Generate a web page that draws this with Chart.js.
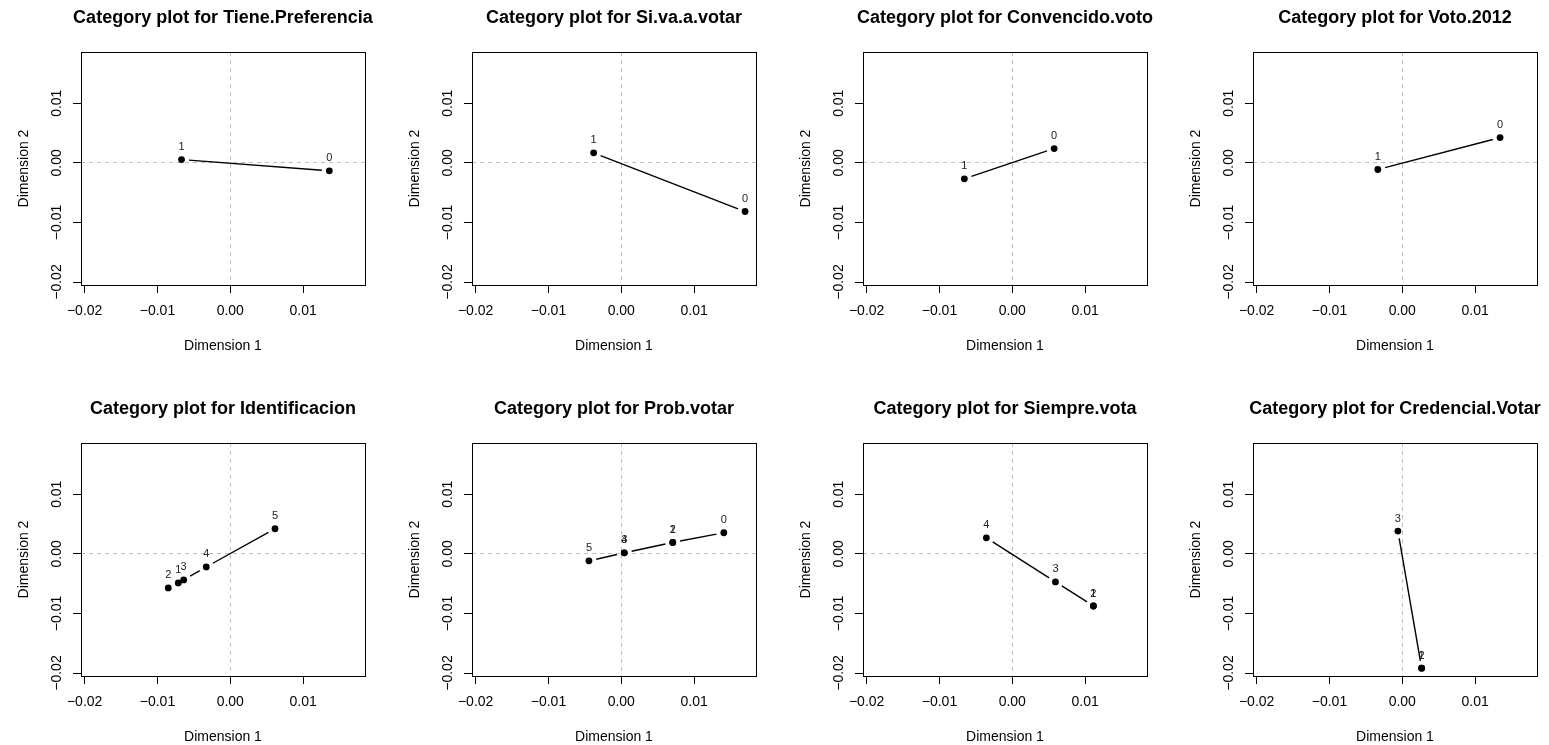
<!DOCTYPE html>
<html>
<head>
<meta charset="utf-8">
<script src="https://cdn.jsdelivr.net/npm/chart.js@4.4.1/dist/chart.umd.min.js"></script>
<style>
  html, body { margin: 0; padding: 0; background: #fff; overflow: hidden; }
  #wrap { position: relative; width: 1549px; height: 745px; }
  canvas.panel { position: absolute; }
</style>
</head>
<body>
<div id="wrap"></div>
<script>
const FONT = '"Liberation Sans", Arial, Helvetica, sans-serif';

// valores (Dimension 1 = x, Dimension 2 = y)
const tieneLabels = ['1', '0'];
const tieneX = [-0.0067, 0.0136];
const tieneY = [0.00055, -0.00134];

const siVaLabels = ['1', '0'];
const siVaX = [-0.0038, 0.0170];
const siVaY = [0.00168, -0.00817];

const convencidoLabels = ['1', '0'];
const convencidoX = [-0.00658, 0.00575];
const convencidoY = [-0.00268, 0.0024];

const voto2012Labels = ['1', '0'];
const voto2012X = [-0.00336, 0.01343];
const voto2012Y = [-0.00112, 0.00424];

const identLabels = ['2', '1', '3', '4', '5'];
const identX = [-0.00852, -0.00714, -0.0064, -0.0033, 0.00614];
const identY = [-0.00572, -0.00488, -0.00438, -0.00219, 0.00421];

const probLabels = ['5', '3', '4', '1', '2', '0'];
const probX = [-0.00444, 0.00041, 0.00041, 0.00707, 0.00707, 0.01408];
const probY = [-0.00118, 0.00017, 0.00017, 0.00192, 0.00192, 0.00354];

const siempreLabels = ['4', '3', '2', '1'];
const siempreX = [-0.00356, 0.00593, 0.01114, 0.01114];
const siempreY = [0.00269, -0.00471, -0.00875, -0.00875];

const credLabels = ['3', '2', '1'];
const credX = [-0.0006, 0.00266, 0.00266];
const credY = [0.00382, -0.01919, -0.01919];

const tickVals = [-0.02, -0.01, 0, 0.01];
const axisMin = -0.0205;
const xMax = 0.0185;
const yMax = 0.0186;

const panels = [
  { name: 'Tiene.Preferencia', labels: tieneLabels, x: tieneX, y: tieneY },
  { name: 'Si.va.a.votar', labels: siVaLabels, x: siVaX, y: siVaY },
  { name: 'Convencido.voto', labels: convencidoLabels, x: convencidoX, y: convencidoY },
  { name: 'Voto.2012', labels: voto2012Labels, x: voto2012X, y: voto2012Y },
  { name: 'Identificacion', labels: identLabels, x: identX, y: identY },
  { name: 'Prob.votar', labels: probLabels, x: probX, y: probY },
  { name: 'Siempre.vota', labels: siempreLabels, x: siempreX, y: siempreY },
  { name: 'Credencial.Votar', labels: credLabels, x: credX, y: credY }
];

const colLeft = [0, 391, 782, 1172];
const rowTop = [0, 391];

// formato estilo R, com sinal de menos verdadeiro
function fmt(v) {
  return (v < 0 ? '\u2212' : '') + Math.abs(v).toFixed(2);
}

// título centrado sobre a área do gráfico, sem comprimir o texto
const plotTitle = {
  id: 'plotTitle',
  afterDraw(chart) {
    const a = chart.chartArea;
    const ctx = chart.ctx;
    ctx.save();
    ctx.fillStyle = '#000';
    ctx.font = 'bold 18px ' + FONT;
    ctx.textAlign = 'center';
    ctx.textBaseline = 'middle';
    ctx.fillText(chart.config.options.plotTitle, (a.left + a.right) / 2, 18);
    ctx.restore();
  }
};

// linhas entre os pontos, com folga em volta de cada ponto (type = "b")
const gapLines = {
  id: 'gapLines',
  afterDatasetsDraw(chart) {
    const pts = chart.getDatasetMeta(0).data;
    const ctx = chart.ctx;
    const gap = 7.5;
    ctx.save();
    ctx.strokeStyle = '#000';
    ctx.lineWidth = 1.4;
    for (let i = 0; i < pts.length - 1; i++) {
      const p = pts[i], q = pts[i + 1];
      const dx = q.x - p.x, dy = q.y - p.y;
      const len = Math.hypot(dx, dy);
      if (len <= gap * 2) continue;
      const ux = dx / len, uy = dy / len;
      ctx.beginPath();
      ctx.moveTo(p.x + ux * gap, p.y + uy * gap);
      ctx.lineTo(q.x - ux * gap, q.y - uy * gap);
      ctx.stroke();
    }
    ctx.restore();
  }
};

// rótulos das categorias acima dos pontos
const pointLabels = {
  id: 'pointLabels',
  afterDatasetsDraw(chart) {
    const pts = chart.getDatasetMeta(0).data;
    const labels = chart.config.options.catLabels;
    const ctx = chart.ctx;
    ctx.save();
    ctx.fillStyle = '#222';
    ctx.font = '11px ' + FONT;
    ctx.textAlign = 'center';
    ctx.textBaseline = 'middle';
    pts.forEach((p, i) => ctx.fillText(labels[i], p.x, p.y - 12.5));
    ctx.restore();
  }
};

// moldura completa da área do gráfico
const frame = {
  id: 'frame',
  afterDraw(chart) {
    const a = chart.chartArea;
    const ctx = chart.ctx;
    ctx.save();
    ctx.strokeStyle = '#000';
    ctx.lineWidth = 1;
    const l = Math.round(a.left) + 0.5, t = Math.round(a.top) + 0.5;
    const r = Math.round(a.right) + 0.5, b = Math.round(a.bottom) + 0.5;
    ctx.strokeRect(l, t, r - l, b - t);
    ctx.restore();
  }
};

const zeroGrid = c => (c.tick && c.tick.value === 0) ? '#bebebe' : 'rgba(0,0,0,0)';

panels.forEach((pn, idx) => {
  const canvas = document.createElement('canvas');
  canvas.className = 'panel';
  canvas.width = 380;
  canvas.height = 360;
  canvas.style.left = colLeft[idx % 4] + 'px';
  canvas.style.top = rowTop[Math.floor(idx / 4)] + 'px';
  document.getElementById('wrap').appendChild(canvas);

  new Chart(canvas.getContext('2d'), {
    type: 'scatter',
    data: {
      datasets: [{
        data: pn.x.map((v, i) => ({ x: v, y: pn.y[i] })),
        showLine: false,
        pointRadius: 3.4,
        pointHoverRadius: 3.4,
        pointBorderWidth: 0,
        pointBackgroundColor: '#000'
      }]
    },
    options: {
      responsive: false,
      animation: false,
      devicePixelRatio: 1,
      catLabels: pn.labels,
      plotTitle: 'Category plot for ' + pn.name,
      layout: { padding: { left: 0, right: 15, top: 52, bottom: 0 } },
      plugins: {
        legend: { display: false },
        tooltip: { enabled: false },
        title: { display: false }
      },
      scales: {
        x: {
          type: 'linear',
          position: 'bottom',
          min: axisMin,
          max: xMax,
          z: 1,
          afterBuildTicks: s => { s.ticks = tickVals.map(v => ({ value: v })); },
          afterFit: s => { s.height = 75; },
          grid: { color: zeroGrid, lineWidth: 1, drawTicks: true, tickLength: 8, tickColor: '#000', tickWidth: 1 },
          border: { display: false, dash: [4, 4] },
          ticks: { autoSkip: false, padding: 10, color: '#000', maxRotation: 0, font: { family: FONT, size: 14 }, callback: fmt },
          title: { display: true, text: 'Dimension 1', color: '#000', font: { family: FONT, size: 14 }, padding: { top: 0, bottom: 5 } }
        },
        y: {
          type: 'linear',
          position: 'left',
          min: axisMin,
          max: yMax,
          z: 1,
          afterBuildTicks: s => { s.ticks = tickVals.map(v => ({ value: v })); },
          afterFit: s => { s.width = 81; },
          grid: { color: zeroGrid, lineWidth: 1, drawTicks: true, tickLength: 8, tickColor: '#000', tickWidth: 1 },
          border: { display: false, dash: [4, 4] },
          ticks: { autoSkip: false, padding: -2, crossAlign: 'center', minRotation: 90, maxRotation: 90, color: '#000', font: { family: FONT, size: 14 }, callback: fmt },
          title: { display: true, text: 'Dimension 2', color: '#000', font: { family: FONT, size: 14 }, padding: { top: 16, bottom: 0 } }
        }
      }
    },
    plugins: [gapLines, pointLabels, frame, plotTitle]
  });
});
</script>
</body>
</html>
